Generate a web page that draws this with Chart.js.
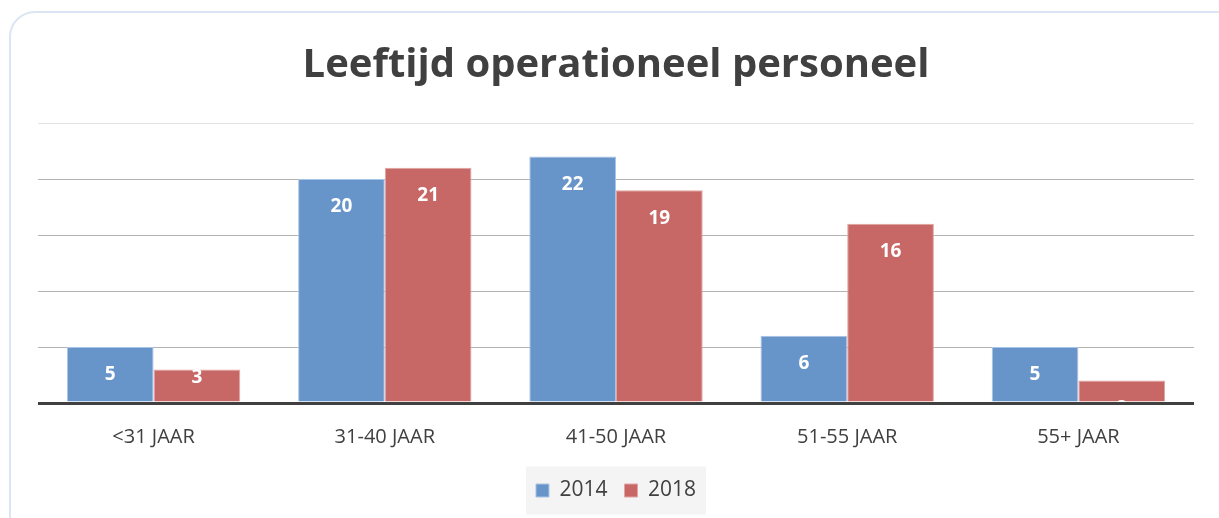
<!DOCTYPE html>
<html>
<head>
<meta charset="utf-8">
<script src="https://cdn.jsdelivr.net/npm/chart.js@4/dist/chart.umd.min.js"></script>
<style>
  html, body { margin: 0; padding: 0; background: #fff; overflow: hidden; }
  #kaart {
    position: absolute; left: 9px; top: 11px; width: 1240px; height: 560px;
    border: 2px solid #dce5f2; border-radius: 26px; box-sizing: border-box;
  }
  #wrap { position: absolute; left: 0; top: 0; width: 1219px; height: 518px; }
</style>
</head>
<body>
<div id="kaart"></div>
<div id="wrap"><canvas id="grafico"></canvas></div>
<script>
const categorieen = ["<31 JAAR", "31-40 JAAR", "41-50 JAAR", "51-55 JAAR", "55+ JAAR"];
const waarden2014 = [5, 20, 22, 6, 5];
const waarden2018 = [3, 21, 19, 16, 2];
const jaren = ["2014", "2018"];

const labelsPlugin = {
    id: "barLabels",
    afterDatasetsDraw(chart) {
        const ctx = chart.ctx;
        const area = chart.chartArea;
        ctx.save();
        ctx.beginPath();
        ctx.rect(area.left, area.top, area.right - area.left, area.bottom - area.top - 1);
        ctx.clip();
        ctx.font = "bold 19px 'Open Sans', sans-serif";
        ctx.fillStyle = "#fff";
        ctx.textAlign = "center";
        ctx.textBaseline = "middle";
        chart.data.datasets.forEach((ds, i) => {
            chart.getDatasetMeta(i).data.forEach((bar, j) => {
                const h = bar.base - bar.y;
                const off = h > 25 ? Math.min(28, h - 24) : 28;
                ctx.fillText(ds.data[j], bar.x, bar.y + off);
            });
        });
        ctx.restore();
    }
};

const legendaAchtergrond = {
    id: "legendBg",
    beforeDraw(chart) {
        const l = chart.legend;
        if (!l) return;
        const ctx = chart.ctx;
        const hb = l.legendHitBoxes;
        ctx.save();
        ctx.fillStyle = "#f4f4f4";
        const cx = (hb[0].left + hb[hb.length - 1].left + hb[hb.length - 1].width) / 2;
        const cy = hb[0].top + hb[0].height / 2;
        ctx.fillRect(cx - 90, cy - 24, 180, 48);
        ctx.restore();
    }
};

const ctx = document.getElementById("grafico").getContext("2d");
new Chart(ctx, {
    type: "bar",
    data: {
        labels: categorieen,
        datasets: [
            {
                label: jaren[0],
                data: waarden2014,
                backgroundColor: "#6795c9",
                borderColor: "#a9c4e6",
                borderWidth: 1
            },
            {
                label: jaren[1],
                data: waarden2018,
                backgroundColor: "#c86866",
                borderColor: "#e2a3a2",
                borderWidth: 1
            }
        ]
    },
    options: {
        responsive: true,
        maintainAspectRatio: false,
        animation: false,
        layout: { padding: { left: 38, right: 25, top: 42, bottom: 7 } },
        datasets: { bar: { categoryPercentage: 0.75, barPercentage: 1 } },
        plugins: {
            title: {
                display: true,
                text: "Leeftijd operationeel personeel",
                color: "#404040",
                font: { family: "'Open Sans', sans-serif", size: 40, weight: "bold" },
                padding: { top: 0, bottom: 33 }
            },
            legend: {
                position: "bottom",
                labels: {
                    color: "#404040",
                    font: { family: "'Open Sans', sans-serif", size: 21 },
                    boxWidth: 13,
                    boxHeight: 13,
                    padding: 17
                }
            },
            tooltip: { enabled: false }
        },
        scales: {
            x: {
                grid: { display: false },
                border: { display: false },
                ticks: {
                    color: "#404040",
                    font: { family: "'Open Sans', sans-serif", size: 20 },
                    padding: 14
                }
            },
            y: {
                min: 0,
                max: 25,
                ticks: { display: false, stepSize: 5 },
                border: { display: false },
                grid: {
                    drawTicks: false,
                    color: c => c.tick.value === 0 ? "#404040" : (c.tick.value === 25 ? "#e2e2e2" : "#b4b4b4"),
                    lineWidth: c => c.tick.value === 0 ? 3 : 1
                }
            }
        }
    },
    plugins: [labelsPlugin, legendaAchtergrond]
});
</script>
</body>
</html>
